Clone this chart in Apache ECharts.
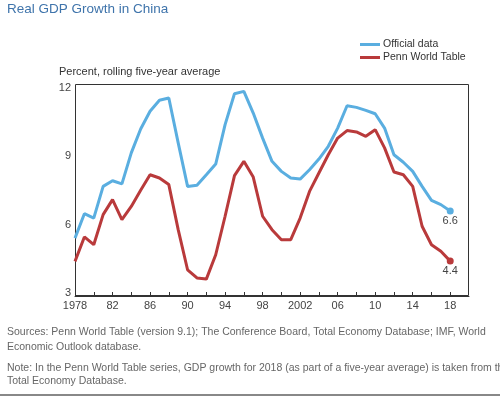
<!DOCTYPE html>
<html><head><meta charset="utf-8">
<script src="https://cdn.jsdelivr.net/npm/echarts@6/dist/echarts.min.js"></script>
<style>html,body{margin:0;padding:0;background:#fff;}#c{width:500px;height:396px;}</style>
</head><body><div id="c"></div>
<script>
const years = [1978,1979,1980,1981,1982,1983,1984,1985,1986,1987,1988,1989,1990,1991,1992,1993,1994,1995,1996,1997,1998,1999,2000,2001,2002,2003,2004,2005,2006,2007,2008,2009,2010,2011,2012,2013,2014,2015,2016,2017,2018];
const officialData = [5.41,6.48,6.29,7.68,7.93,7.79,9.15,10.2,10.98,11.46,11.56,9.59,7.68,7.73,8.19,8.66,10.39,11.75,11.85,10.9,9.8,8.78,8.34,8.05,8.0,8.41,8.88,9.44,10.24,11.22,11.15,11.02,10.87,10.24,9.07,8.74,8.34,7.68,7.07,6.88,6.6];
const pennData = [4.39,5.46,5.12,6.44,7.1,6.22,6.8,7.51,8.19,8.05,7.76,5.78,4.02,3.66,3.61,4.68,6.37,8.15,8.78,8.09,6.37,5.78,5.34,5.34,6.29,7.46,8.27,9.07,9.8,10.13,10.07,9.88,10.17,9.37,8.31,8.19,7.68,5.93,5.12,4.83,4.4];
const xTickLabels = {1978:'1978',1982:'82',1986:'86',1990:'90',1994:'94',1998:'98',2002:'2002',2006:'06',2010:'10',2014:'14',2018:'18'};
const yTicks = [3,6,9,12];
const seriesNames = ['Official data','Penn World Table'];
const titleText = 'Real GDP Growth in China';
const unitText = 'Percent, rolling five-year average';
const footer = [
 'Sources: Penn World Table (version 9.1); The Conference Board, Total Economy Database; IMF, World',
 'Economic Outlook database.',
 'Note: In the Penn World Table series, GDP growth for 2018 (as part of a five-year average) is taken from the',
 'Total Economy Database.'
];
const BLUE = '#5aaee0', RED = '#b93a3b';
const ff = 'Liberation Sans';
function build(vals, color){
  return vals.map((v,i)=>{
    if(i===vals.length-1){
      return {value:[years[i],v],symbol:'circle',symbolSize:7,itemStyle:{color:color},
        label:{show:true,position:'bottom',distance:1,formatter:()=>v.toFixed(1),color:'#444',fontSize:11,fontFamily:ff}};
    }
    return [years[i],v];
  });
}
const chart = echarts.init(document.getElementById('c'));
chart.setOption({
  animation:false,
  textStyle:{fontFamily:ff},
  legend:{
    orient:'vertical',left:355,top:34,itemWidth:20,itemHeight:3,itemGap:2,
    icon:'rect',
    textStyle:{fontSize:10.5,color:'#333',fontFamily:ff,padding:[0,0,0,-2]},
    data:seriesNames
  },
  grid:{left:75,right:31,top:88,height:205,show:false},
  xAxis:{type:'value',min:1978,max:2020,interval:2,offset:3,
    axisLine:{lineStyle:{color:'#333'}},
    axisTick:{inside:true,length:4,lineStyle:{color:'#333'}},
    axisLabel:{margin:4,fontSize:11,color:'#444',fontFamily:ff,showMaxLabel:false,
      formatter:v=>xTickLabels[v]||''},
    splitLine:{show:false}},
  yAxis:{type:'value',min:yTicks[0],max:yTicks[yTicks.length-1],interval:3,
    axisLine:{show:false},axisTick:{show:false},
    axisLabel:{margin:4,fontSize:11,color:'#444',fontFamily:ff},
    splitLine:{show:false}},
  graphic:[
    {type:'rect',shape:{x:75.5,y:84.5,width:393,height:211},style:{fill:null,stroke:'#333',lineWidth:1},silent:true,z:-1},
    {type:'text',left:7,top:2,style:{text:titleText,fontSize:13.5,fill:'#3f74ab',fontFamily:ff}},
    {type:'text',left:59,top:66,style:{text:unitText,fontSize:11,fill:'#333',fontFamily:ff}},
    {type:'text',left:7,top:327,style:{text:footer[0],fontSize:10.5,fill:'#666',fontFamily:ff}},
    {type:'text',left:7,top:342,style:{text:footer[1],fontSize:10.5,fill:'#666',fontFamily:ff}},
    {type:'text',left:7,top:363,style:{text:footer[2],fontSize:10.5,fill:'#666',fontFamily:ff}},
    {type:'text',left:7,top:376,style:{text:footer[3],fontSize:10.5,fill:'#666',fontFamily:ff}},
    {type:'rect',left:0,top:394,shape:{width:500,height:2},style:{fill:'#888'}}
  ],
  series:[
    {name:seriesNames[0],type:'line',data:build(officialData,BLUE),color:BLUE,symbol:'none',
      lineStyle:{width:3,color:BLUE},itemStyle:{color:BLUE}},
    {name:seriesNames[1],type:'line',data:build(pennData,RED),color:RED,symbol:'none',
      lineStyle:{width:3,color:RED},itemStyle:{color:RED}}
  ]
});
</script></body></html>
